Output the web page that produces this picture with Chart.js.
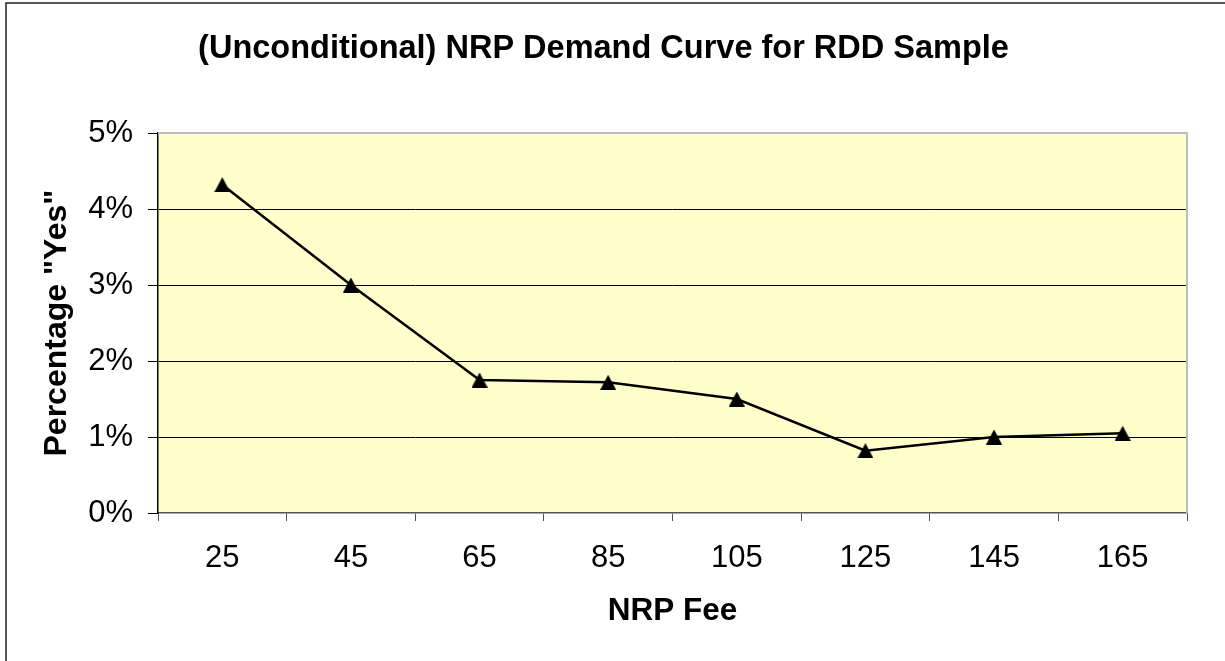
<!DOCTYPE html>
<html>
<head>
<meta charset="utf-8">
<script src="https://cdn.jsdelivr.net/npm/chart.js@4/dist/chart.umd.min.js"></script>
<style>
  html, body { margin: 0; padding: 0; background: #fff; }
  canvas { display: block; }
</style>
</head>
<body>
<canvas id="demandChart" width="1225" height="661"></canvas>
<script>
// NRP demand curve, RDD sample

const fees = ['25', '45', '65', '85', '105', '125', '145', '165'];
const pctYes = [4.32, 3.00, 1.75, 1.72, 1.50, 0.82, 1.00, 1.05];
const yTickValues = [0, 1, 2, 3, 4, 5];

const FONT = "'Liberation Sans', Arial, sans-serif";

// Excel-like triangle marker, box centred on the point
function triangleMarker(w, h) {
    const c = document.createElement('canvas');
    c.width = w;
    c.height = h;
    const g = c.getContext('2d');
    g.fillStyle = '#000';
    g.beginPath();
    g.moveTo(w / 2, 0);
    g.lineTo(w, h);
    g.lineTo(0, h);
    g.closePath();
    g.fill();
    return c;
}

// plot background, plot border (grey top/right) and the outer frame
const frames = {
    id: 'frames',
    beforeDraw(chart) {
        const { ctx, chartArea: a } = chart;
        ctx.save();
        ctx.fillStyle = '#ffffff';
        ctx.fillRect(0, 0, chart.width, chart.height);
        ctx.fillStyle = '#FFFFCC';
        ctx.fillRect(a.left, a.top, a.right - a.left, a.bottom - a.top);
        ctx.restore();
    },
    afterDraw(chart) {
        const { ctx, chartArea: a } = chart;
        ctx.save();
        ctx.strokeStyle = '#bdbdbd';
        ctx.lineWidth = 2;
        ctx.beginPath();
        ctx.moveTo(a.left, a.top);
        ctx.lineTo(a.right, a.top);
        ctx.lineTo(a.right, a.bottom);
        ctx.stroke();

        ctx.strokeStyle = '#222';
        ctx.lineWidth = 1.5;
        ctx.beginPath();
        ctx.moveTo(6, chart.height + 5);
        ctx.lineTo(6, 3);
        ctx.lineTo(chart.width + 5, 3);
        ctx.stroke();
        ctx.restore();
    }
};

new Chart(document.getElementById('demandChart'), {
    type: 'line',
    data: {
        labels: fees,
        datasets: [{
            data: pctYes,
            borderColor: '#000',
            borderWidth: 2.5,
            tension: 0,
            pointStyle: triangleMarker(16, 15),
            pointRadius: 8,
            pointBackgroundColor: '#000',
            pointBorderColor: '#000'
        }]
    },
    plugins: [frames],
    options: {
        responsive: false,
        animation: false,
        devicePixelRatio: 1,
        layout: { padding: { left: 20, right: 38, top: 0, bottom: 0 } },
        plugins: {
            legend: { display: false },
            tooltip: { enabled: false },
            title: {
                display: true,
                text: '(Unconditional) NRP Demand Curve for RDD Sample',
                color: '#000',
                font: { family: FONT, size: 32.5, weight: 'bold' },
                padding: { top: 30, bottom: 64 }
            }
        },
        scales: {
            x: {
                offset: true,
                grid: {
                    offset: true,
                    drawOnChartArea: false,
                    tickLength: 8,
                    tickColor: '#555'
                },
                border: { color: '#555', width: 1.5 },
                ticks: {
                    color: '#000',
                    padding: 19,
                    font: { family: FONT, size: 31 }
                },
                title: {
                    display: true,
                    text: 'NRP Fee',
                    color: '#000',
                    font: { family: FONT, size: 31.5, weight: 'bold' },
                    padding: { top: 0, bottom: 31 }
                },
                afterFit: s => { s.height = 148; }
            },
            y: {
                min: 0,
                max: 5,
                afterBuildTicks: s => { s.ticks = yTickValues.map(v => ({ value: v })); },
                grid: {
                    color: c => (c.tick && (c.tick.value === 0 || c.tick.value === 5)) ? 'rgba(0,0,0,0)' : '#000',
                    lineWidth: 1,
                    tickLength: 10,
                    tickColor: '#000'
                },
                border: { color: '#000', width: 1.5 },
                ticks: {
                    color: '#000',
                    padding: 15,
                    font: { family: FONT, size: 31 },
                    callback: v => v + '%'
                },
                title: {
                    display: true,
                    text: 'Percentage "Yes"',
                    color: '#000',
                    font: { family: FONT, size: 32, weight: 'bold' },
                    padding: { top: 18, bottom: 0 }
                },
                afterFit: s => { s.width = 138; }
            }
        }
    }
});
</script>
</body>
</html>
